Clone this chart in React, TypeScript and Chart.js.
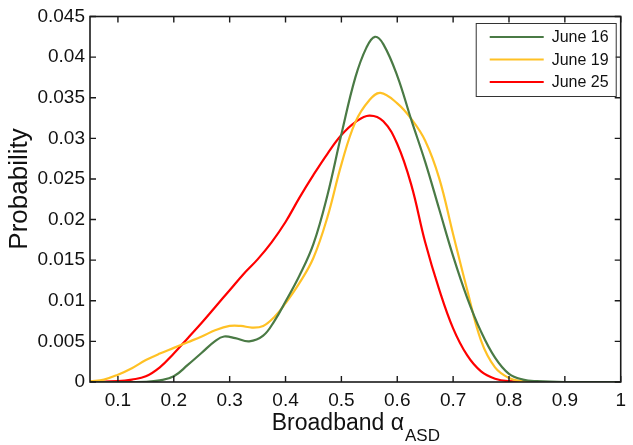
import React, { useEffect, useRef } from "react";
import { Chart, registerables } from "chart.js";

Chart.register(...registerables);

const FONT = "'Liberation Sans', Arial, Helvetica, sans-serif";

const seriesLabels = ["June 16", "June 19", "June 25"];
const seriesColors = ["#4a7a45", "#ffc125", "#ff0000"];

const june16X = [0.05, 0.1, 0.15, 0.175, 0.2, 0.225, 0.25, 0.275, 0.29, 0.31, 0.335, 0.36, 0.38, 0.4, 0.425, 0.45, 0.475, 0.5, 0.525, 0.545, 0.56, 0.575, 0.6, 0.625, 0.65, 0.675, 0.7, 0.725, 0.75, 0.775, 0.8, 0.825, 0.85, 0.9, 1];
const june16Y = [0, 0, 0.00003, 0.0002, 0.0007, 0.0021, 0.0036, 0.0051, 0.0056, 0.0054, 0.005, 0.0057, 0.0075, 0.0099, 0.0131, 0.017, 0.023, 0.0305, 0.0375, 0.0412, 0.0425, 0.0416, 0.0377, 0.0323, 0.0271, 0.0213, 0.0155, 0.0104, 0.0062, 0.003, 0.001, 0.0003, 0.0001, 0, 0];

const june19X = [0.05, 0.075, 0.1, 0.125, 0.15, 0.175, 0.2, 0.225, 0.25, 0.275, 0.3, 0.32, 0.34, 0.36, 0.38, 0.4, 0.425, 0.45, 0.475, 0.5, 0.525, 0.55, 0.57, 0.6, 0.625, 0.65, 0.675, 0.7, 0.725, 0.75, 0.775, 0.8, 0.825, 0.85, 0.9, 1];
const june19Y = [0.0001, 0.0003, 0.0009, 0.0017, 0.0027, 0.0035, 0.0042, 0.0049, 0.0056, 0.0064, 0.0069, 0.0069, 0.0067, 0.0069, 0.008, 0.0097, 0.0122, 0.0153, 0.0203, 0.0268, 0.032, 0.0347, 0.0356, 0.0343, 0.0324, 0.0297, 0.0251, 0.0182, 0.0114, 0.0051, 0.0018, 0.0005, 0.0001, 0, 0, 0];

const june25X = [0.05, 0.1, 0.125, 0.15, 0.175, 0.2, 0.225, 0.25, 0.275, 0.3, 0.325, 0.35, 0.375, 0.4, 0.425, 0.45, 0.475, 0.5, 0.525, 0.55, 0.575, 0.6, 0.625, 0.65, 0.675, 0.7, 0.725, 0.75, 0.775, 0.8, 0.85, 1];
const june25Y = [0, 0.0001, 0.0003, 0.0007, 0.0018, 0.0035, 0.0054, 0.0073, 0.0093, 0.0113, 0.0133, 0.0151, 0.0172, 0.0197, 0.0227, 0.0255, 0.0281, 0.0304, 0.032, 0.0328, 0.0321, 0.0293, 0.0243, 0.0172, 0.0114, 0.0066, 0.0033, 0.0013, 0.0004, 0.0001, 0, 0];

const xTicks = [0.1, 0.2, 0.3, 0.4, 0.5, 0.6, 0.7, 0.8, 0.9, 1];
const xTickLabels = ["0.1", "0.2", "0.3", "0.4", "0.5", "0.6", "0.7", "0.8", "0.9", "1"];
const yTicks = [0, 0.005, 0.01, 0.015, 0.02, 0.025, 0.03, 0.035, 0.04, 0.045];
const yTickLabels = ["0", "0.005", "0.01", "0.015", "0.02", "0.025", "0.03", "0.035", "0.04", "0.045"];

const xTitle = "Broadband α";
const xTitleSub = "ASD";
const yTitle = "Probability";

const seriesX = [june16X, june19X, june25X];
const seriesY = [june16Y, june19Y, june25Y];

const framePlugin = {
  id: "frameAndDecor",
  afterDraw(chart: any) {
    const { ctx, chartArea } = chart;
    const { left, right, top, bottom } = chartArea;
    const xs = chart.scales.x;
    const ys = chart.scales.y;
    ctx.save();
    // frame
    ctx.strokeStyle = "#1a1a1a";
    ctx.lineWidth = 1.6;
    ctx.strokeRect(left, top, right - left, bottom - top);
    // inward ticks
    ctx.lineWidth = 1.4;
    ctx.beginPath();
    const tl = 6;
    xTicks.forEach((v) => {
      const px = xs.getPixelForValue(v);
      ctx.moveTo(px, bottom);
      ctx.lineTo(px, bottom - tl);
      ctx.moveTo(px, top);
      ctx.lineTo(px, top + tl);
    });
    yTicks.forEach((v) => {
      const py = ys.getPixelForValue(v);
      ctx.moveTo(left, py);
      ctx.lineTo(left + tl, py);
      ctx.moveTo(right, py);
      ctx.lineTo(right - tl, py);
    });
    ctx.stroke();

    // legend
    const bw = 140;
    const bh = 73;
    const bx = right - 5 - bw;
    const by = top + 6.5;
    ctx.fillStyle = "#ffffff";
    ctx.fillRect(bx, by, bw, bh);
    ctx.strokeStyle = "#333333";
    ctx.lineWidth = 1;
    ctx.strokeRect(bx + 0.5, by + 0.5, bw, bh);
    ctx.font = `16px ${FONT}`;
    ctx.textBaseline = "middle";
    ctx.textAlign = "left";
    chart.data.datasets.forEach((ds: any, i: number) => {
      const ry = by + 14 + i * 22.5;
      ctx.strokeStyle = ds.borderColor;
      ctx.lineWidth = 2.2;
      ctx.beginPath();
      ctx.moveTo(bx + 14, ry);
      ctx.lineTo(bx + 68, ry);
      ctx.stroke();
      ctx.fillStyle = "#111111";
      ctx.fillText(ds.label, bx + 76, ry + 1);
    });

    // axis titles
    ctx.fillStyle = "#111111";
    ctx.save();
    ctx.translate(20, 189);
    ctx.rotate(-Math.PI / 2);
    ctx.font = `26px ${FONT}`;
    ctx.textAlign = "center";
    ctx.textBaseline = "middle";
    ctx.fillText(yTitle, 0, 0);
    ctx.restore();

    ctx.textBaseline = "alphabetic";
    ctx.textAlign = "left";
    ctx.font = `23px ${FONT}`;
    const w1 = ctx.measureText(xTitle).width;
    ctx.font = `17px ${FONT}`;
    const w2 = ctx.measureText(xTitleSub).width;
    const cx = (left + right) / 2;
    const sx = cx - (w1 + w2) / 2;
    ctx.font = `23px ${FONT}`;
    ctx.fillText(xTitle, sx, 430);
    ctx.font = `17px ${FONT}`;
    ctx.fillText(xTitleSub, sx + w1 + 1, 441);
    ctx.restore();
  },
};

export default function App() {
  const canvasRef = useRef<HTMLCanvasElement | null>(null);

  useEffect(() => {
    const canvas = canvasRef.current;
    if (!canvas) return;
    const datasets = seriesLabels.map((label, i) => ({
      label,
      data: seriesX[i].map((x, j) => ({ x, y: seriesY[i][j] })),
      borderColor: seriesColors[i],
      backgroundColor: seriesColors[i],
      borderWidth: 2.2,
      pointRadius: 0,
      fill: false,
      tension: 0.4,
    }));
    const chart = new Chart(canvas, {
      type: "line",
      data: { datasets },
      options: {
        animation: false,
        responsive: false,
        devicePixelRatio: 1,
        layout: { padding: { left: 0, right: 4, top: 16.5, bottom: 0 } },
        plugins: {
          legend: { display: false },
          tooltip: { enabled: false },
        },
        scales: {
          x: {
            type: "linear",
            position: "bottom",
            min: 0.05,
            max: 1,
            grid: { display: false, drawTicks: false, tickLength: 0 },
            border: { display: false },
            afterBuildTicks: (s: any) => {
              s.ticks = xTicks.map((v) => ({ value: v }));
            },
            afterFit: (s: any) => {
              s.height = 63;
            },
            ticks: {
              autoSkip: false,
              maxRotation: 0,
              padding: 7,
              color: "#111111",
              font: { size: 19, family: FONT },
              callback: (_v: any, i: number) => xTickLabels[i],
            },
          },
          y: {
            type: "linear",
            min: 0,
            max: 0.045,
            grid: { display: false, drawTicks: false, tickLength: 0 },
            border: { display: false },
            afterBuildTicks: (s: any) => {
              s.ticks = yTicks.map((v) => ({ value: v }));
            },
            afterFit: (s: any) => {
              s.width = 90;
            },
            ticks: {
              autoSkip: false,
              padding: 5,
              color: "#111111",
              font: { size: 19, family: FONT },
              callback: (_v: any, i: number) => yTickLabels[i],
            },
          },
        },
      },
      plugins: [framePlugin],
    });
    return () => chart.destroy();
  }, []);

  return (
    <div style={{ position: "absolute", left: 0, top: 0, width: 633, height: 445, background: "#fff" }}>
      <canvas ref={canvasRef} width={633} height={445} style={{ width: 633, height: 445, display: "block" }} />
    </div>
  );
}
